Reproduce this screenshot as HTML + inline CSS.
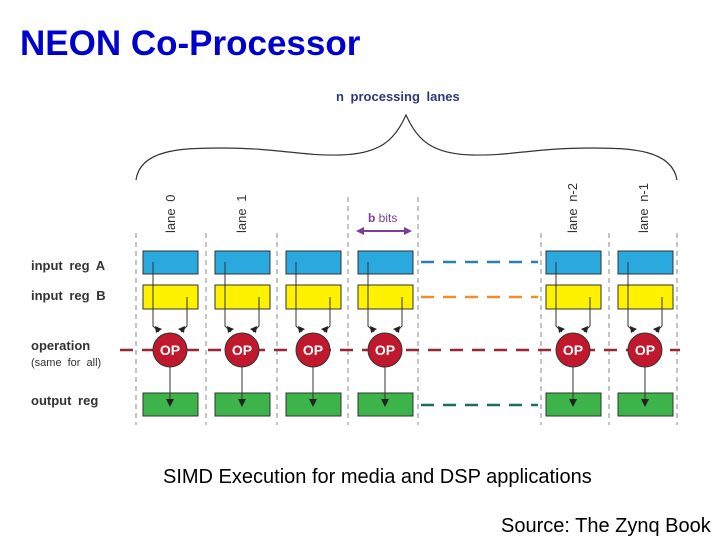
<!DOCTYPE html>
<html><head><meta charset="utf-8"><style>
body{margin:0;background:#fff;width:720px;height:540px;overflow:hidden;font-family:"Liberation Sans",sans-serif}
</style></head><body>
<svg width="720" height="540" viewBox="0 0 720 540" xmlns="http://www.w3.org/2000/svg" font-family="Liberation Sans, sans-serif">
<text x="20" y="55" font-size="35" font-weight="bold" fill="#0000cc">NEON Co-Processor</text>
<text x="336" y="101" font-size="13" font-weight="bold" fill="#2d3a7a" word-spacing="3">n processing lanes</text>
<path d="M136,180 C140,150 180,148 220,148 C280,148 300,156 340,155 C380,154 395,140 406,115 C417,140 432,154 472,155 C512,156 532,148 592,148 C632,148 672,150 677,180" fill="none" stroke="#333" stroke-width="1.2"/>
<g stroke="#888" stroke-width="1" stroke-dasharray="5,4">
<line x1="136" y1="233" x2="136" y2="425"/><line x1="206" y1="233" x2="206" y2="425"/>
<line x1="277" y1="233" x2="277" y2="425"/><line x1="348" y1="197" x2="348" y2="425"/>
<line x1="418" y1="197" x2="418" y2="425"/><line x1="541" y1="233" x2="541" y2="425"/>
<line x1="609" y1="233" x2="609" y2="425"/><line x1="677" y1="233" x2="677" y2="425"/>
</g>
<g font-size="13" fill="#333" word-spacing="3">
<text transform="translate(175,233) rotate(-90)">lane 0</text>
<text transform="translate(246,233) rotate(-90)">lane 1</text>
<text transform="translate(577,233) rotate(-90)">lane n-2</text>
<text transform="translate(648,233) rotate(-90)">lane n-1</text>
</g>
<text x="368" y="222" font-size="12" fill="#7b3f98" font-weight="bold">b <tspan font-weight="normal">bits</tspan></text>
<line x1="360" y1="231" x2="408" y2="231" stroke="#7b3f98" stroke-width="2"/>
<path d="M356,231 l8,-4 v8z M412,231 l-8,-4 v8z" fill="#7b3f98"/>
<g stroke-width="2.5" stroke-dasharray="13,9">
<line x1="421" y1="262" x2="538" y2="262" stroke="#2e7fb0"/>
<line x1="421" y1="297" x2="538" y2="297" stroke="#e8922e"/>
<line x1="120" y1="350" x2="680" y2="350" stroke="#9b2335"/>
<line x1="421" y1="405" x2="538" y2="405" stroke="#1d6e5a"/>
</g>
<g font-size="13" font-weight="bold" fill="#333" word-spacing="3">
<text x="31" y="270">input reg A</text>
<text x="31" y="300">input reg B</text>
<text x="31" y="350">operation</text>
<text x="31" y="366" font-size="11" font-weight="normal">(same for all)</text>
<text x="31" y="405">output reg</text>
</g>
<defs><g id="lane">
<rect x="-27" y="251" width="55" height="23" fill="#2aa9de" stroke="#333"/>
<rect x="-27" y="285" width="55" height="24" fill="#fff200" stroke="#333"/>
<rect x="-27" y="393" width="55" height="23" fill="#3cb44a" stroke="#333"/>
<path d="M-17,262 V326 L-11,332 M17,297 V326 L11,332" fill="none" stroke="#333" stroke-width="1"/>
<path d="M-14,333 l-1,-7 l7,3z M14,333 l1,-7 l-7,3z" fill="#222"/>
<circle cx="0" cy="350" r="17" fill="#c0182c" stroke="#333"/>
<text x="0" y="355" font-size="14" font-weight="bold" fill="#fff" text-anchor="middle">OP</text>
<line x1="0" y1="367" x2="0" y2="400" stroke="#333"/>
<path d="M-4,399 h8 l-4,8z" fill="#222"/>
</g></defs>
<use href="#lane" x="170"/><use href="#lane" x="242"/><use href="#lane" x="313"/>
<use href="#lane" x="385"/><use href="#lane" x="573"/><use href="#lane" x="645"/>
<text x="163" y="483" font-size="20" fill="#000">SIMD Execution for media and DSP applications</text>
<text x="501" y="532" font-size="20" fill="#000">Source: The Zynq Book</text>
</svg>
</body></html>
